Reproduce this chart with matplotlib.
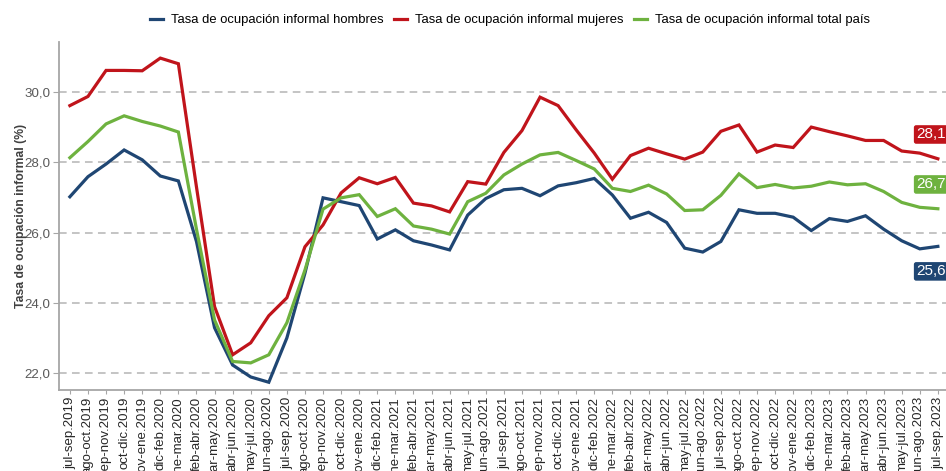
import numpy as np
import matplotlib
matplotlib.use("Agg")
import matplotlib.pyplot as plt

plt.rcParams['font.family'] = ['Liberation Sans', 'DejaVu Sans']

periodos = ['jul-sep.2019', 'ago-oct.2019', 'sep-nov.2019', 'oct-dic.2019', 'nov-ene.2019',
            'dic-feb.2020', 'ene-mar.2020', 'feb-abr.2020', 'mar-may.2020', 'abr-jun.2020',
            'may-jul.2020', 'jun-ago.2020', 'jul-sep.2020', 'ago-oct.2020', 'sep-nov.2020',
            'oct-dic.2020', 'nov-ene.2020', 'dic-feb.2021', 'ene-mar.2021', 'feb-abr.2021',
            'mar-may.2021', 'abr-jun.2021', 'may-jul.2021', 'jun-ago.2021', 'jul-sep.2021',
            'ago-oct.2021', 'sep-nov.2021', 'oct-dic.2021', 'nov-ene.2021', 'dic-feb.2022',
            'ene-mar.2022', 'feb-abr.2022', 'mar-may.2022', 'abr-jun.2022', 'may-jul.2022',
            'jun-ago.2022', 'jul-sep.2022', 'ago-oct.2022', 'sep-nov.2022', 'oct-dic.2022',
            'nov-ene.2022', 'dic-feb.2023', 'ene-mar.2023', 'feb-abr.2023', 'mar-may.2023',
            'abr-jun.2023', 'may-jul.2023', 'jun-ago.2023', 'jul-sep.2023']

hombres = [27.02, 27.59, 27.95, 28.35, 28.07, 27.61, 27.47, 25.75, 23.30, 22.24,
           21.90, 21.75, 23.01, 24.85, 26.99, 26.88, 26.77, 25.82, 26.08, 25.77,
           25.65, 25.51, 26.50, 26.97, 27.22, 27.26, 27.05, 27.33, 27.42, 27.54,
           27.07, 26.41, 26.58, 26.29, 25.56, 25.45, 25.75, 26.65, 26.55, 26.55,
           26.44, 26.06, 26.40, 26.32, 26.48, 26.10, 25.77, 25.54, 25.61]

mujeres = [29.61, 29.87, 30.61, 30.61, 30.60, 30.96, 30.80, 27.30, 23.90, 22.53,
           22.87, 23.64, 24.15, 25.60, 26.22, 27.13, 27.56, 27.39, 27.57, 26.84,
           26.76, 26.59, 27.45, 27.38, 28.28, 28.90, 29.85, 29.61, 28.92, 28.26,
           27.52, 28.19, 28.40, 28.24, 28.09, 28.29, 28.88, 29.06, 28.29, 28.49,
           28.42, 29.00, 28.87, 28.75, 28.62, 28.62, 28.32, 28.26, 28.10]

total = [28.13, 28.59, 29.09, 29.32, 29.16, 29.03, 28.86, 26.10, 23.52, 22.34,
         22.30, 22.53, 23.44, 24.94, 26.67, 26.99, 27.08, 26.46, 26.68, 26.19,
         26.10, 25.96, 26.88, 27.12, 27.64, 27.95, 28.21, 28.28, 28.05, 27.81,
         27.26, 27.17, 27.35, 27.10, 26.63, 26.65, 27.06, 27.67, 27.28, 27.37,
         27.27, 27.32, 27.44, 27.36, 27.39, 27.17, 26.86, 26.72, 26.68]

series = [
    ('Tasa de ocupación informal hombres', hombres, '#1F4673', -0.71),
    ('Tasa de ocupación informal mujeres', mujeres, '#C0141B', 0.69),
    ('Tasa de ocupación informal total país', total, '#6EB23F', 0.69),
]

fig = plt.figure(figsize=(9.46, 4.71), dpi=100)
ax = fig.add_axes([0.0624, 0.172, 0.9376, 0.739])

x = np.arange(len(periodos))
for nombre, vals, color, off in series:
    ax.plot(x, vals, color=color, lw=2.3, label=nombre, solid_joinstyle='miter')
    ult = vals[-1]
    # etiqueta del último valor, pegada al borde derecho como en el original
    ax.text(len(periodos) - 2.2, ult + off, f'{ult:.1f}'.replace('.', ','),
            color='white', fontsize=11, ha='left', va='center', clip_on=False,
            bbox=dict(boxstyle='round,pad=0.15', fc=color, ec='none'))

ax.set_xlim(-0.6, 48.45)
ax.set_ylim(21.53, 31.42)
ax.set_yticks([22, 24, 26, 28, 30])
ax.set_yticklabels([f'{v:.1f}'.replace('.', ',') for v in [22, 24, 26, 28, 30]])
ax.set_xticks(x)
ax.set_xticklabels(periodos, rotation=90)

ax.grid(axis='y', color='#B4B4B4', linestyle=(0, (5, 3.5)), lw=1.1)
ax.set_axisbelow(True)
for s in ['top', 'right']:
    ax.spines[s].set_visible(False)
for s in ['left', 'bottom']:
    ax.spines[s].set_color('#A6A6A6')
    ax.spines[s].set_linewidth(1.3)

ax.tick_params(axis='y', colors='#A6A6A6', labelcolor='#595959', labelsize=9.6, length=4, pad=2)
ax.tick_params(axis='x', colors='#A6A6A6', labelcolor='#262626', labelsize=9.5, length=3, pad=2)

ax.set_ylabel('Tasa de ocupación informal (%)', fontsize=8.8, fontweight='bold',
              color='#404040')
ax.yaxis.set_label_coords(-0.036, 0.5)

fig.legend(loc='center', bbox_to_anchor=(0.539, 0.957), ncol=3, frameon=False,
           fontsize=9.4, handlelength=1.0, handletextpad=0.6, columnspacing=0.8)

fig.savefig('out.png', dpi=100)
